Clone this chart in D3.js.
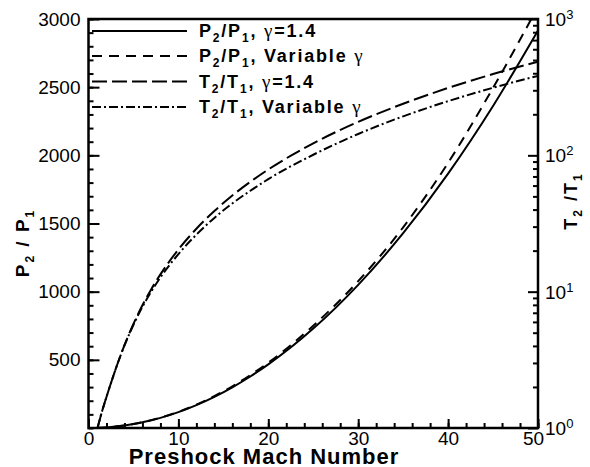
<!DOCTYPE html>
<html>
<head>
<meta charset="utf-8">
<script src="https://cdn.jsdelivr.net/npm/d3@7"></script>
<style>
  body { margin: 0; background: #fff; }
  svg { display: block; font-family: "Liberation Sans", Arial, Helvetica, sans-serif; }
</style>
</head>
<body>
<svg id="chart" width="590" height="467"></svg>
<script>
// Normal-shock jump ratios versus upstream Mach number
const mach      = [1, 1.5, 2, 2.5, 3, 4, 5, 6, 7, 8, 10, 12, 14, 16, 18, 20, 25, 30, 35, 40, 45, 50];
const p21Ideal  = [1, 2.46, 4.5, 7.13, 10.33, 18.5, 29.0, 41.8, 57.0, 74.5, 116.5, 167.8, 228.5, 298.5, 377.8, 466.5, 729, 1050, 1429, 1866, 2362, 2916];
const p21Real   = [1, 2.46, 4.5, 7.13, 10.35, 18.6, 29.2, 42.2, 57.7, 75.5, 118.5, 171, 234, 306, 388, 479, 750, 1077, 1472, 1945, 2495, 3090];
const t21Ideal  = [1, 1.32, 1.69, 2.14, 2.68, 4.05, 5.80, 7.94, 10.47, 13.39, 20.39, 28.94, 39.05, 50.72, 63.94, 78.72, 122.5, 176.0, 239.1, 312.1, 394.7, 487.0];
const t21Real   = [1, 1.32, 1.69, 2.14, 2.68, 4.03, 5.71, 7.74, 10.05, 12.72, 18.86, 26.19, 34.75, 44.38, 54.99, 66.91, 101.0, 143.4, 193.2, 249.6, 313.0, 382.8];

const xMajor = [0, 10, 20, 30, 40, 50];
const xMinor = d3.range(0, 51, 2);
const pMajor = [500, 1000, 1500, 2000, 2500, 3000];
const pMinor = d3.range(0, 3001, 100);
const tDecades = [1, 10, 100, 1000];
const tExponents = ["0", "1", "2", "3"];

// Legend entries: pieces are [text, kind] with kind b = bold, s = subscript, g = greek
const legendEntries = [
  { dash: null,       pieces: [["P","b"],["2","s"],["/P","b"],["1","s"],[", ","b"],["γ","g"],["=1.4","b"]] },
  { dash: "10,7",     pieces: [["P","b"],["2","s"],["/P","b"],["1","s"],[", Variable ","b"],["γ","g"]] },
  { dash: "15,5",     pieces: [["T","b"],["2","s"],["/T","b"],["1","s"],[", ","b"],["γ","g"],["=1.4","b"]] },
  { dash: "9,3,2,3",  pieces: [["T","b"],["2","s"],["/T","b"],["1","s"],[", Variable ","b"],["γ","g"]] }
];

const X0 = 88.5, X1 = 538, Y0 = 19, Y1 = 428;

const x  = d3.scaleLinear().domain([0, 50]).range([X0, X1]);
const yP = d3.scaleLinear().domain([0, 3000]).range([Y1, Y0]);
const yT = d3.scaleLog().domain([1, 1000]).range([Y1, Y0]);

const svg = d3.select("#chart");

svg.append("defs").append("clipPath").attr("id", "plotClip")
  .append("rect").attr("x", X0).attr("y", Y0).attr("width", X1 - X0).attr("height", Y1 - Y0);

// Curves
const series = [
  { values: p21Ideal, scale: yP, dash: null },
  { values: p21Real,  scale: yP, dash: "10,7" },
  { values: t21Ideal, scale: yT, dash: "15,5" },
  { values: t21Real,  scale: yT, dash: "9,3,2,3" }
];

const plot = svg.append("g").attr("clip-path", "url(#plotClip)");
series.forEach(s => {
  const line = d3.line()
    .x((d, i) => x(mach[i]))
    .y(d => s.scale(d))
    .curve(d3.curveMonotoneX);
  plot.append("path")
    .datum(s.values)
    .attr("d", line)
    .attr("fill", "none")
    .attr("stroke", "#000")
    .attr("stroke-width", 2)
    .attr("stroke-dasharray", s.dash);
});

// Axes (ticks pointing into the plot)
function styleAxis(g) {
  g.select(".domain").remove();
  g.selectAll("line").attr("stroke", "#000").attr("stroke-width", 2);
  g.selectAll("text").attr("fill", "#000").style("font-size", "19px");
}

svg.append("g").attr("transform", `translate(0,${Y1})`)
  .call(d3.axisBottom(x).tickValues(xMinor).tickSize(-5).tickFormat(""))
  .call(styleAxis);
const xAx = svg.append("g").attr("transform", `translate(0,${Y1})`)
  .call(d3.axisBottom(x).tickValues(xMajor).tickSize(-9).tickPadding(4).tickFormat(d3.format("d")))
  .call(styleAxis);
xAx.selectAll("text").filter(d => d === 50).attr("dx", -5);

svg.append("g").attr("transform", `translate(${X0},0)`)
  .call(d3.axisLeft(yP).tickValues(pMinor).tickSize(-5).tickFormat(""))
  .call(styleAxis);
svg.append("g").attr("transform", `translate(${X0},0)`)
  .call(d3.axisLeft(yP).tickValues(pMajor).tickSize(-11).tickPadding(8).tickFormat(d3.format("d")))
  .call(styleAxis);

const tMinor = [];
tDecades.slice(0, 3).forEach(d => { for (let k = 2; k <= 9; k++) tMinor.push(d * k); });
svg.append("g").attr("transform", `translate(${X1},0)`)
  .call(d3.axisRight(yT).tickValues(tMinor).tickSize(-5).tickFormat(""))
  .call(styleAxis);
svg.append("g").attr("transform", `translate(${X1},0)`)
  .call(d3.axisRight(yT).tickValues(tDecades).tickSize(-10).tickFormat(""))
  .call(styleAxis);

// Power-of-ten labels on the right axis
tDecades.forEach((v, i) => {
  const yc = Math.max(yT(v), 15);
  const t = svg.append("text")
    .attr("x", X1 + 7).attr("y", yc + 7)
    .style("font-size", "19px").attr("fill", "#000");
  t.append("tspan").text("10");
  t.append("tspan").attr("dy", -7).style("font-size", "13px").text(tExponents[i]);
});

// Frame
svg.append("rect")
  .attr("x", X0).attr("y", Y0).attr("width", X1 - X0).attr("height", Y1 - Y0)
  .attr("fill", "none").attr("stroke", "#000").attr("stroke-width", 2.5);

// Helper for bold text with subscripts and greek letters
function richText(sel, pieces, size, subSize) {
  let shifted = false;
  pieces.forEach(([txt, kind]) => {
    const ts = sel.append("tspan").text(txt);
    if (kind === "s") {
      ts.attr("dy", 5).style("font-size", subSize + "px").style("font-weight", "bold");
      shifted = true;
    } else {
      if (shifted) { ts.attr("dy", -5); shifted = false; }
      if (kind === "g") {
        ts.style("font-family", '"Liberation Serif", "Times New Roman", serif')
          .style("font-weight", "normal").style("font-size", (size + 1) + "px");
      } else {
        ts.style("font-weight", "bold").style("font-size", size + "px");
      }
    }
  });
}

// Legend
const legendRows = [31, 56, 81.5, 107];
legendEntries.forEach((e, i) => {
  const y = legendRows[i];
  svg.append("line")
    .attr("x1", 92).attr("x2", 187).attr("y1", y).attr("y2", y)
    .attr("stroke", "#000").attr("stroke-width", 2)
    .attr("stroke-dasharray", e.dash);
  const t = svg.append("text").attr("x", 199).attr("y", y + 6)
    .attr("fill", "#000").style("letter-spacing", "1.8px");
  richText(t, e.pieces, 18, 12);
});

// Axis titles
svg.append("text")
  .attr("x", 264).attr("y", 463.5).attr("text-anchor", "middle")
  .style("font-size", "22px").style("font-weight", "bold").style("letter-spacing", "1px")
  .attr("fill", "#000")
  .text("Preshock Mach Number");

const leftTitle = svg.append("text")
  .attr("transform", "translate(29,243) rotate(-90)")
  .attr("text-anchor", "middle").attr("fill", "#000").style("letter-spacing", "2px");
richText(leftTitle, [["P","b"],["2","s"],[" / P","b"],["1","s"]], 19, 12);

const rightTitle = svg.append("text")
  .attr("transform", "translate(577,201) rotate(-90)")
  .attr("text-anchor", "middle").attr("fill", "#000").style("letter-spacing", "2px");
richText(rightTitle, [["T","b"],["2","s"],[" /T","b"],["1","s"]], 18, 12);
</script>
</body>
</html>
